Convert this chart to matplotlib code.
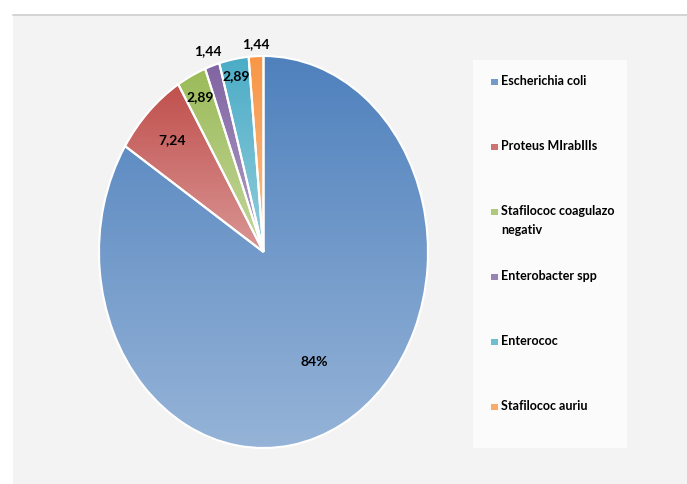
import numpy as np
from matplotlib import pyplot as plt
from matplotlib.colors import to_rgb
from matplotlib.patches import Rectangle

# data
names = ['Escherichia coli', 'Proteus MIrabIlIs', 'Stafilococ coagulazo\nnegativ',
         'Enterobacter spp', 'Enterococ', 'Stafilococ auriu']
values = [84, 7.24, 2.89, 1.44, 2.89, 1.44]
value_labels = ['84%', '7,24', '2,89', '1,44', '2,89', '1,44']
colors = ['#4F81BD', '#C0504D', '#9BBB59', '#8064A2', '#4BACC6', '#F79646']

# how far out each value label sits (fraction of radius)
label_r = [0.64, 0.80, 0.88, 1.08, 0.91, 1.06]

FONT = 'Lato'
W, H = 687, 484

plt.rcParams['hatch.color'] = '#e4e4e4'
plt.rcParams['hatch.linewidth'] = 0.5

def lighten(c, t):
    c = np.array(to_rgb(c))
    return c + (1 - c) * t

fig = plt.figure(figsize=(W / 100, H / 100), dpi=100)
fig.patch.set_facecolor('white')

# chart area background with fine texture
bg = fig.add_axes([0, 0, 1, 1], zorder=-5)
bg.set_xlim(0, W)
bg.set_ylim(H, 0)
bg.axis('off')
bg.add_patch(Rectangle((13, 14), W - 13, H - 14, facecolor='#f3f3f3',
                       edgecolor='none', hatch='//////', linewidth=0))
bg.plot([13, W], [14.5, 14.5], color='#d0d0d0', lw=1.2)

# legend panel
bg.add_patch(Rectangle((473, 60), 154, 388, facecolor='#fbfbfb',
                       edgecolor='none', zorder=2))

# pie (stretched vertically, as in the sheet)
ax = fig.add_axes([99 / W, (H - 448) / H, 329 / W, 392 / H])
wedges, _ = ax.pie(values, startangle=90, counterclock=False, colors=colors,
                   wedgeprops={'edgecolor': 'white', 'linewidth': 1.5})
ax.set_aspect('auto')

# vertical gradient inside each wedge: base colour on top, lighter below
for w, c in zip(wedges, colors):
    x0, y0, x1, y1 = w.get_path().get_extents().extents
    top = np.array(to_rgb(c))
    bot = lighten(c, 0.4)
    t = np.linspace(0, 1, 256)[:, None]
    grad = (top[None, :] * (1 - t) + bot[None, :] * t)[:, None, :]
    im = ax.imshow(grad, extent=(x0, x1, y0, y1), origin='upper',
                   aspect='auto', interpolation='bilinear', zorder=1)
    im.set_clip_path(w)
    w.set_zorder(2)
    w.set_facecolor('none')

ax.set_xlim(-1, 1)
ax.set_ylim(-1, 1)
ax.axis('off')

for w, lab, r in zip(wedges, value_labels, label_r):
    ang = np.deg2rad((w.theta1 + w.theta2) / 2)
    ax.text(r * np.cos(ang), r * np.sin(ang), lab, ha='center', va='center',
            fontsize=10, fontweight='bold', family=FONT, color='black', zorder=5)

# legend, one entry every 65 px
for i, (name, c) in enumerate(zip(names, colors)):
    y = 82 + i * 65
    bg.add_patch(Rectangle((491, y - 3.5), 6.5, 6.5, facecolor=lighten(c, 0.2),
                           edgecolor='none', zorder=3))
    bg.text(501, y - 7, name, ha='left', va='top', fontsize=9, family=FONT,
            fontweight='bold', color='black', linespacing=1.65, zorder=4)

fig.savefig('out.png', dpi=100)
